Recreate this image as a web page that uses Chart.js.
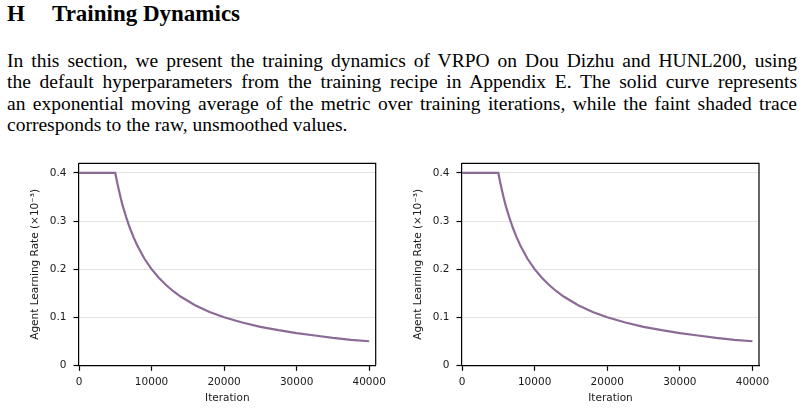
<!DOCTYPE html>
<html>
<head>
<meta charset="utf-8">
<script src="https://cdn.jsdelivr.net/npm/chart.js@4.4.0/dist/chart.umd.min.js"></script>
<style>
  body { margin: 0; width: 804px; height: 409px; background: #fff; overflow: hidden; position: relative; font-family: "Liberation Serif", "Times New Roman", serif; color: #000; }
  .head { position: absolute; top: 2px; font-weight: bold; font-size: 23px; line-height: 1; white-space: nowrap; }
  .para { position: absolute; left: 7px; top: 50px; width: 790px; font-size: 19.5px; line-height: 21.3px; }
  .para div { text-align: justify; text-align-last: justify; white-space: nowrap; }
  .para div.last { text-align-last: left; }
  canvas { position: absolute; top: 150px; }
</style>
</head>
<body>
<div class="head" style="left:7px">H</div>
<div class="head" style="left:52px">Training Dynamics</div>
<div class="para">
  <div>In this section, we present the training dynamics of VRPO on Dou Dizhu and HUNL200, using</div>
  <div>the default hyperparameters from the training recipe in Appendix E. The solid curve represents</div>
  <div>an exponential moving average of the metric over training iterations, while the faint shaded trace</div>
  <div class="last">corresponds to the raw, unsmoothed values.</div>
</div>
<canvas id="dizhu" width="400" height="259" style="left:0"></canvas>
<canvas id="hunl" width="404" height="259" style="left:400px"></canvas>
<script>
// values (learning rate in units of 1e-3)
const iterations = [0, 5000, 5250, 5500, 5750, 6000, 6500, 7000, 7500, 8000, 9000, 10000, 11000, 12000, 13000, 14000, 16000, 18000, 20000, 22500, 25000, 27500, 30000, 32500, 35000, 37500, 40000];
const dizhuLr = [0.4, 0.4, 0.381, 0.364, 0.348, 0.333, 0.308, 0.286, 0.267, 0.25, 0.222, 0.2, 0.182, 0.167, 0.154, 0.143, 0.125, 0.111, 0.1, 0.089, 0.08, 0.073, 0.067, 0.062, 0.057, 0.053, 0.05];
const hunlLr = [0.4, 0.4, 0.381, 0.364, 0.348, 0.333, 0.308, 0.286, 0.267, 0.25, 0.222, 0.2, 0.182, 0.167, 0.154, 0.143, 0.125, 0.111, 0.1, 0.089, 0.08, 0.073, 0.067, 0.062, 0.057, 0.053, 0.05];
const xTicks = [0, 10000, 20000, 30000, 40000];
const yTicks = [0, 0.1, 0.2, 0.3, 0.4];

const lineColor = "rgb(140, 106, 152)";
const axisFont = { family: "DejaVu Sans", size: 10.5 };

// matplotlib-style top and right spines
const spines = {
  id: "spines",
  afterDraw(chart) {
    const { ctx, chartArea: a } = chart;
    ctx.save();
    ctx.strokeStyle = "#000";
    ctx.lineWidth = 1.2;
    ctx.beginPath();
    ctx.moveTo(a.left, a.top);
    ctx.lineTo(a.right, a.top);
    ctx.lineTo(a.right, a.bottom);
    ctx.stroke();
    ctx.restore();
  }
};

function makeChart(id, values, padLeft, padRight) {
  return new Chart(document.getElementById(id), {
    type: "line",
    data: {
      datasets: [{
        data: iterations.map((x, i) => ({ x: x, y: values[i] })),
        borderColor: lineColor,
        borderWidth: 2.2,
        pointRadius: 0,
        tension: 0,
        fill: false
      }]
    },
    options: {
      animation: false,
      responsive: false,
      layout: { padding: { left: padLeft, right: padRight, top: 12, bottom: 4.7 } },
      plugins: { legend: { display: false }, tooltip: { enabled: false } },
      scales: {
        x: {
          type: "linear",
          min: 0,
          max: 40900,
          afterBuildTicks: a => { a.ticks = xTicks.map(v => ({ value: v })); },
          afterFit: a => { a.height = 39; },
          grid: { drawOnChartArea: false, tickLength: 5.5, tickColor: "#000", tickWidth: 1.2 },
          border: { color: "#000", width: 1.2 },
          ticks: { color: "#1a1a1a", font: axisFont, padding: 5, maxRotation: 0, callback: v => String(v) },
          title: { display: true, text: "Iteration", color: "#1a1a1a", font: axisFont, padding: 0 }
        },
        y: {
          min: 0,
          max: 0.42,
          afterBuildTicks: a => { a.ticks = yTicks.map(v => ({ value: v })); },
          afterFit: a => { a.width = 50.3; },
          grid: { color: "#e3e3e3", lineWidth: 1, tickLength: 5.5, tickColor: "#000", tickWidth: 1.2 },
          border: { color: "#000", width: 1.2 },
          ticks: { color: "#1a1a1a", font: axisFont, padding: 7, callback: v => String(v) },
          title: { display: true, text: "Agent Learning Rate (×10⁻³)", color: "#1a1a1a", font: axisFont, padding: 0 }
        }
      }
    },
    plugins: [spines]
  });
}

makeChart("dizhu", dizhuLr, 28.7, 24.3);
makeChart("hunl", hunlLr, 11.7, 45);
</script>
</body>
</html>
